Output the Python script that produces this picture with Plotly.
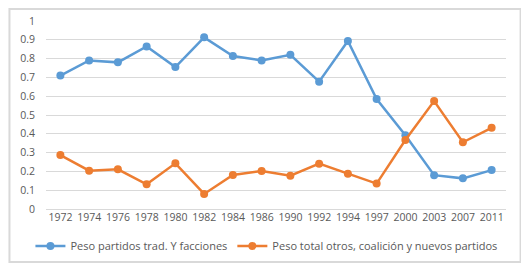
import plotly.graph_objects as go

years = ["1972", "1974", "1976", "1978", "1980", "1982", "1984", "1986",
         "1990", "1992", "1994", "1997", "2000", "2003", "2007", "2011"]
peso_trad = [0.71, 0.79, 0.78, 0.865, 0.755, 0.913, 0.814, 0.79,
             0.82, 0.677, 0.894, 0.585, 0.392, 0.18, 0.163, 0.207]
peso_otros = [0.287, 0.204, 0.211, 0.131, 0.243, 0.08, 0.181, 0.202,
              0.177, 0.241, 0.188, 0.135, 0.367, 0.574, 0.355, 0.432]
y_ticks = [0, 0.1, 0.2, 0.3, 0.4, 0.5, 0.6, 0.7, 0.8, 0.9, 1]

blue = "#5b9bd5"
orange = "#ed7d31"
font = "Open Sans"

fig = go.Figure()
fig.add_trace(go.Scatter(x=years, y=peso_trad, mode="lines+markers",
                         name="Peso partidos trad. Y facciones",
                         line=dict(color=blue, width=2.5),
                         marker=dict(color=blue, size=8)))
fig.add_trace(go.Scatter(x=years, y=peso_otros, mode="lines+markers",
                         name="Peso total otros, coalición y nuevos partidos",
                         line=dict(color=orange, width=2.5),
                         marker=dict(color=orange, size=8)))

# page has an 8px body margin, so the figure is placed at (8, 8)
OFF = 8
W, H = 529 - OFF, 266 - OFF
ml, mr, mt, mb = 45.6 - OFF, 22.6, 21 - OFF, 57
pw, ph = W - ml - mr, H - mt - mb

def px(x):
    return (x - OFF - ml) / pw

def py(y):
    return (H - mb - (y - OFF)) / ph

fig.update_layout(
    width=W, height=H,
    margin=dict(l=ml, r=mr, t=mt, b=mb, pad=0, autoexpand=False),
    paper_bgcolor="white", plot_bgcolor="white",
    font=dict(family=font, size=10, color="#595959"),
    showlegend=True,
    legend=dict(orientation="h", x=px(30), xanchor="left", y=py(246),
                yanchor="middle", bgcolor="rgba(0,0,0,0)",
                font=dict(size=11, color="#595959"), itemwidth=30,
                tracegroupgap=0, itemsizing="trace"),
    xaxis=dict(type="category", range=[-0.5, len(years) - 0.5],
               showgrid=False, showline=False, ticks="",
               tickfont=dict(size=10.5, color="#595959"), zeroline=False,
               automargin=False),
    yaxis=dict(range=[0, 1], tickvals=y_ticks, ticktext=[str(v) for v in y_ticks],
               showgrid=True, gridcolor="#d9d9d9", gridwidth=1, zeroline=True,
               zerolinecolor="#d9d9d9", zerolinewidth=1, showline=False, ticks="",
               tickfont=dict(size=10.5, color="#595959"), ticklabelstandoff=10,
               automargin=False),
    shapes=[dict(type="rect", xref="paper", yref="paper",
                 x0=px(9), x1=px(521), y0=py(262), y1=py(9),
                 line=dict(color="#d9d9d9", width=2), layer="below")],
)

fig.write_html("out.html")
